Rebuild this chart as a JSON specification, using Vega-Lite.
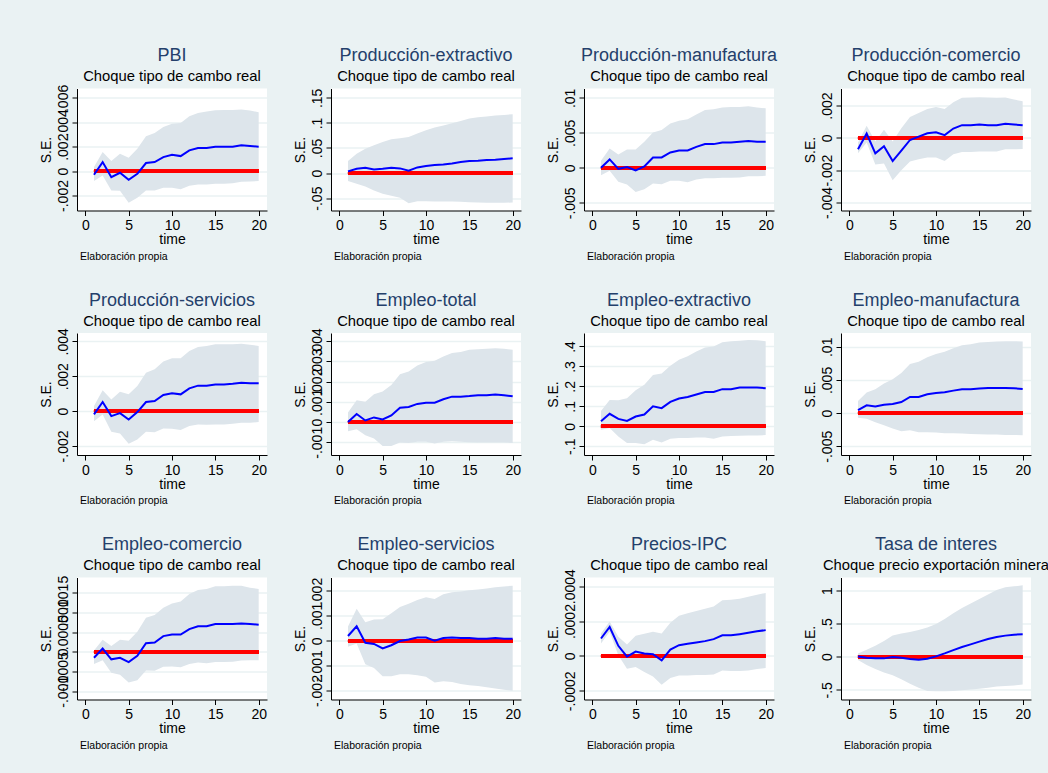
{
  "$schema": "https://vega.github.io/schema/vega-lite/v6.json",
  "background": "#eaf2f3",
  "padding": {"left": 39, "top": 46.5, "right": 0, "bottom": 28},
  "data": {"values": [
    {"panel": "PBI", "time": 1, "irf": -0.0003, "lower": -0.00082, "upper": 0.00033},
    {"panel": "PBI", "time": 2, "irf": 0.00074, "lower": -0.00036, "upper": 0.00156},
    {"panel": "PBI", "time": 3, "irf": -0.0005, "lower": -0.00159, "upper": 0.00082},
    {"panel": "PBI", "time": 4, "irf": -0.00014, "lower": -0.00162, "upper": 0.00142},
    {"panel": "PBI", "time": 5, "irf": -0.00071, "lower": -0.0026, "upper": 0.0011},
    {"panel": "PBI", "time": 6, "irf": -0.00022, "lower": -0.00219, "upper": 0.00184},
    {"panel": "PBI", "time": 7, "irf": 0.00066, "lower": -0.00159, "upper": 0.00285},
    {"panel": "PBI", "time": 8, "irf": 0.00074, "lower": -0.00159, "upper": 0.00312},
    {"panel": "PBI", "time": 9, "irf": 0.00115, "lower": -0.00137, "upper": 0.00362},
    {"panel": "PBI", "time": 10, "irf": 0.00134, "lower": -0.00137, "upper": 0.00389},
    {"panel": "PBI", "time": 11, "irf": 0.00123, "lower": -0.00148, "upper": 0.00395},
    {"panel": "PBI", "time": 12, "irf": 0.0017, "lower": -0.0012, "upper": 0.0045},
    {"panel": "PBI", "time": 13, "irf": 0.00189, "lower": -0.0011, "upper": 0.00477},
    {"panel": "PBI", "time": 14, "irf": 0.00189, "lower": -0.0011, "upper": 0.00488},
    {"panel": "PBI", "time": 15, "irf": 0.002, "lower": -0.00104, "upper": 0.00499},
    {"panel": "PBI", "time": 16, "irf": 0.002, "lower": -0.00104, "upper": 0.005},
    {"panel": "PBI", "time": 17, "irf": 0.002, "lower": -0.00099, "upper": 0.005},
    {"panel": "PBI", "time": 18, "irf": 0.00211, "lower": -0.00088, "upper": 0.00504},
    {"panel": "PBI", "time": 19, "irf": 0.00205, "lower": -0.00085, "upper": 0.00496},
    {"panel": "PBI", "time": 20, "irf": 0.002, "lower": -0.00082, "upper": 0.00482},
    {"panel": "Producción-extractivo", "time": 1, "irf": 0.0033, "lower": -0.016, "upper": 0.024},
    {"panel": "Producción-extractivo", "time": 2, "irf": 0.0087, "lower": -0.0213, "upper": 0.0387},
    {"panel": "Producción-extractivo", "time": 3, "irf": 0.0107, "lower": -0.0267, "upper": 0.0487},
    {"panel": "Producción-extractivo", "time": 4, "irf": 0.0073, "lower": -0.0347, "upper": 0.0553},
    {"panel": "Producción-extractivo", "time": 5, "irf": 0.0087, "lower": -0.0413, "upper": 0.062},
    {"panel": "Producción-extractivo", "time": 6, "irf": 0.0107, "lower": -0.0453, "upper": 0.0673},
    {"panel": "Producción-extractivo", "time": 7, "irf": 0.0093, "lower": -0.0493, "upper": 0.0693},
    {"panel": "Producción-extractivo", "time": 8, "irf": 0.0047, "lower": -0.06, "upper": 0.072},
    {"panel": "Producción-extractivo", "time": 9, "irf": 0.0113, "lower": -0.056, "upper": 0.0787},
    {"panel": "Producción-extractivo", "time": 10, "irf": 0.014, "lower": -0.056, "upper": 0.0853},
    {"panel": "Producción-extractivo", "time": 11, "irf": 0.016, "lower": -0.0567, "upper": 0.0907},
    {"panel": "Producción-extractivo", "time": 12, "irf": 0.0173, "lower": -0.0567, "upper": 0.0947},
    {"panel": "Producción-extractivo", "time": 13, "irf": 0.0193, "lower": -0.0567, "upper": 0.0993},
    {"panel": "Producción-extractivo", "time": 14, "irf": 0.022, "lower": -0.0573, "upper": 0.104},
    {"panel": "Producción-extractivo", "time": 15, "irf": 0.024, "lower": -0.058, "upper": 0.1087},
    {"panel": "Producción-extractivo", "time": 16, "irf": 0.0247, "lower": -0.0587, "upper": 0.1113},
    {"panel": "Producción-extractivo", "time": 17, "irf": 0.026, "lower": -0.0593, "upper": 0.1127},
    {"panel": "Producción-extractivo", "time": 18, "irf": 0.0267, "lower": -0.0593, "upper": 0.1147},
    {"panel": "Producción-extractivo", "time": 19, "irf": 0.028, "lower": -0.0593, "upper": 0.116},
    {"panel": "Producción-extractivo", "time": 20, "irf": 0.0293, "lower": -0.0587, "upper": 0.1173},
    {"panel": "Producción-manufactura", "time": 1, "irf": 0, "lower": -0.00105, "upper": 0.001},
    {"panel": "Producción-manufactura", "time": 2, "irf": 0.0012, "lower": -0.00043, "upper": 0.00277},
    {"panel": "Producción-manufactura", "time": 3, "irf": -0.00014, "lower": -0.002, "upper": 0.00191},
    {"panel": "Producción-manufactura", "time": 4, "irf": 0.0001, "lower": -0.00239, "upper": 0.00263},
    {"panel": "Producción-manufactura", "time": 5, "irf": -0.00038, "lower": -0.00344, "upper": 0.00263},
    {"panel": "Producción-manufactura", "time": 6, "irf": 0.00019, "lower": -0.00306, "upper": 0.00373},
    {"panel": "Producción-manufactura", "time": 7, "irf": 0.00148, "lower": -0.00224, "upper": 0.00506},
    {"panel": "Producción-manufactura", "time": 8, "irf": 0.00148, "lower": -0.00234, "upper": 0.0054},
    {"panel": "Producción-manufactura", "time": 9, "irf": 0.0022, "lower": -0.00186, "upper": 0.00635},
    {"panel": "Producción-manufactura", "time": 10, "irf": 0.00248, "lower": -0.00186, "upper": 0.00673},
    {"panel": "Producción-manufactura", "time": 11, "irf": 0.00248, "lower": -0.00205, "upper": 0.00693},
    {"panel": "Producción-manufactura", "time": 12, "irf": 0.003, "lower": -0.00167, "upper": 0.00764},
    {"panel": "Producción-manufactura", "time": 13, "irf": 0.00339, "lower": -0.00148, "upper": 0.00826},
    {"panel": "Producción-manufactura", "time": 14, "irf": 0.00339, "lower": -0.00148, "upper": 0.00836},
    {"panel": "Producción-manufactura", "time": 15, "irf": 0.00363, "lower": -0.00143, "upper": 0.00864},
    {"panel": "Producción-manufactura", "time": 16, "irf": 0.00363, "lower": -0.00143, "upper": 0.00869},
    {"panel": "Producción-manufactura", "time": 17, "irf": 0.00373, "lower": -0.00138, "upper": 0.00869},
    {"panel": "Producción-manufactura", "time": 18, "irf": 0.00382, "lower": -0.0012, "upper": 0.00879},
    {"panel": "Producción-manufactura", "time": 19, "irf": 0.00373, "lower": -0.0012, "upper": 0.00864},
    {"panel": "Producción-manufactura", "time": 20, "irf": 0.00373, "lower": -0.00115, "upper": 0.0085},
    {"panel": "Producción-comercio", "time": 1, "irf": -0.00071, "lower": -0.00096, "upper": -0.00029},
    {"panel": "Producción-comercio", "time": 2, "irf": 0.00027, "lower": -0.00029, "upper": 0.00075},
    {"panel": "Producción-comercio", "time": 3, "irf": -0.00096, "lower": -0.00165, "upper": -0.00023},
    {"panel": "Producción-comercio", "time": 4, "irf": -0.00052, "lower": -0.00158, "upper": 0.0005},
    {"panel": "Producción-comercio", "time": 5, "irf": -0.00144, "lower": -0.00263, "upper": -0.00023},
    {"panel": "Producción-comercio", "time": 6, "irf": -0.00079, "lower": -0.002, "upper": 0.0006},
    {"panel": "Producción-comercio", "time": 7, "irf": -0.00013, "lower": -0.00146, "upper": 0.00129},
    {"panel": "Producción-comercio", "time": 8, "irf": 0.00008, "lower": -0.00133, "upper": 0.00154},
    {"panel": "Producción-comercio", "time": 9, "irf": 0.00029, "lower": -0.00121, "upper": 0.00179},
    {"panel": "Producción-comercio", "time": 10, "irf": 0.00035, "lower": -0.00121, "upper": 0.00192},
    {"panel": "Producción-comercio", "time": 11, "irf": 0.00017, "lower": -0.00144, "upper": 0.00179},
    {"panel": "Producción-comercio", "time": 12, "irf": 0.00058, "lower": -0.00102, "upper": 0.00221},
    {"panel": "Producción-comercio", "time": 13, "irf": 0.00079, "lower": -0.00088, "upper": 0.00248},
    {"panel": "Producción-comercio", "time": 14, "irf": 0.00079, "lower": -0.00088, "upper": 0.0025},
    {"panel": "Producción-comercio", "time": 15, "irf": 0.00083, "lower": -0.00085, "upper": 0.00252},
    {"panel": "Producción-comercio", "time": 16, "irf": 0.00079, "lower": -0.00085, "upper": 0.0025},
    {"panel": "Producción-comercio", "time": 17, "irf": 0.00079, "lower": -0.00085, "upper": 0.00248},
    {"panel": "Producción-comercio", "time": 18, "irf": 0.00088, "lower": -0.00071, "upper": 0.0025},
    {"panel": "Producción-comercio", "time": 19, "irf": 0.00083, "lower": -0.00071, "upper": 0.00238},
    {"panel": "Producción-comercio", "time": 20, "irf": 0.00079, "lower": -0.00069, "upper": 0.00227},
    {"panel": "Producción-servicios", "time": 1, "irf": -0.00019, "lower": -0.00058, "upper": 0.00029},
    {"panel": "Producción-servicios", "time": 2, "irf": 0.00052, "lower": -0.00019, "upper": 0.00119},
    {"panel": "Producción-servicios", "time": 3, "irf": -0.00029, "lower": -0.00119, "upper": 0.00067},
    {"panel": "Producción-servicios", "time": 4, "irf": -0.00012, "lower": -0.00128, "upper": 0.00111},
    {"panel": "Producción-servicios", "time": 5, "irf": -0.00048, "lower": -0.00188, "upper": 0.00096},
    {"panel": "Producción-servicios", "time": 6, "irf": -0.00006, "lower": -0.00163, "upper": 0.00144},
    {"panel": "Producción-servicios", "time": 7, "irf": 0.00052, "lower": -0.00119, "upper": 0.0022},
    {"panel": "Producción-servicios", "time": 8, "irf": 0.00058, "lower": -0.00121, "upper": 0.0024},
    {"panel": "Producción-servicios", "time": 9, "irf": 0.00092, "lower": -0.001, "upper": 0.00284},
    {"panel": "Producción-servicios", "time": 10, "irf": 0.00102, "lower": -0.00102, "upper": 0.00303},
    {"panel": "Producción-servicios", "time": 11, "irf": 0.00096, "lower": -0.00109, "upper": 0.00303},
    {"panel": "Producción-servicios", "time": 12, "irf": 0.0013, "lower": -0.00086, "upper": 0.00345},
    {"panel": "Producción-servicios", "time": 13, "irf": 0.00146, "lower": -0.00077, "upper": 0.00368},
    {"panel": "Producción-servicios", "time": 14, "irf": 0.00146, "lower": -0.00079, "upper": 0.00374},
    {"panel": "Producción-servicios", "time": 15, "irf": 0.00153, "lower": -0.00077, "upper": 0.00384},
    {"panel": "Producción-servicios", "time": 16, "irf": 0.00153, "lower": -0.00077, "upper": 0.00384},
    {"panel": "Producción-servicios", "time": 17, "irf": 0.00157, "lower": -0.00073, "upper": 0.00384},
    {"panel": "Producción-servicios", "time": 18, "irf": 0.00163, "lower": -0.00067, "upper": 0.00387},
    {"panel": "Producción-servicios", "time": 19, "irf": 0.00159, "lower": -0.00067, "upper": 0.00381},
    {"panel": "Producción-servicios", "time": 20, "irf": 0.00159, "lower": -0.00063, "upper": 0.00374},
    {"panel": "Empleo-total", "time": 1, "irf": 0, "lower": -0.00045, "upper": 0.00048},
    {"panel": "Empleo-total", "time": 2, "irf": 0.0004, "lower": -0.00036, "upper": 0.00108},
    {"panel": "Empleo-total", "time": 3, "irf": 0.00008, "lower": -0.00065, "upper": 0.00101},
    {"panel": "Empleo-total", "time": 4, "irf": 0.00023, "lower": -0.00081, "upper": 0.00138},
    {"panel": "Empleo-total", "time": 5, "irf": 0.00013, "lower": -0.00118, "upper": 0.00151},
    {"panel": "Empleo-total", "time": 6, "irf": 0.00033, "lower": -0.00119, "upper": 0.00184},
    {"panel": "Empleo-total", "time": 7, "irf": 0.00071, "lower": -0.00101, "upper": 0.00237},
    {"panel": "Empleo-total", "time": 8, "irf": 0.00075, "lower": -0.00104, "upper": 0.0025},
    {"panel": "Empleo-total", "time": 9, "irf": 0.0009, "lower": -0.00098, "upper": 0.0028},
    {"panel": "Empleo-total", "time": 10, "irf": 0.00096, "lower": -0.00098, "upper": 0.00297},
    {"panel": "Empleo-total", "time": 11, "irf": 0.00096, "lower": -0.00106, "upper": 0.00303},
    {"panel": "Empleo-total", "time": 12, "irf": 0.00113, "lower": -0.00098, "upper": 0.00325},
    {"panel": "Empleo-total", "time": 13, "irf": 0.00126, "lower": -0.00095, "upper": 0.00342},
    {"panel": "Empleo-total", "time": 14, "irf": 0.00126, "lower": -0.00098, "upper": 0.00347},
    {"panel": "Empleo-total", "time": 15, "irf": 0.00129, "lower": -0.001, "upper": 0.00358},
    {"panel": "Empleo-total", "time": 16, "irf": 0.00133, "lower": -0.00101, "upper": 0.00361},
    {"panel": "Empleo-total", "time": 17, "irf": 0.00133, "lower": -0.00101, "upper": 0.00363},
    {"panel": "Empleo-total", "time": 18, "irf": 0.00136, "lower": -0.00101, "upper": 0.00366},
    {"panel": "Empleo-total", "time": 19, "irf": 0.00133, "lower": -0.00101, "upper": 0.00363},
    {"panel": "Empleo-total", "time": 20, "irf": 0.00128, "lower": -0.00103, "upper": 0.00358},
    {"panel": "Empleo-extractivo", "time": 1, "irf": 0.025, "lower": -0.017, "upper": 0.076},
    {"panel": "Empleo-extractivo", "time": 2, "irf": 0.0625, "lower": -0.0085, "upper": 0.132},
    {"panel": "Empleo-extractivo", "time": 3, "irf": 0.037, "lower": -0.051, "upper": 0.13},
    {"panel": "Empleo-extractivo", "time": 4, "irf": 0.027, "lower": -0.084, "upper": 0.14},
    {"panel": "Empleo-extractivo", "time": 5, "irf": 0.049, "lower": -0.084, "upper": 0.181},
    {"panel": "Empleo-extractivo", "time": 6, "irf": 0.059, "lower": -0.09, "upper": 0.208},
    {"panel": "Empleo-extractivo", "time": 7, "irf": 0.1, "lower": -0.068, "upper": 0.257},
    {"panel": "Empleo-extractivo", "time": 8, "irf": 0.091, "lower": -0.081, "upper": 0.265},
    {"panel": "Empleo-extractivo", "time": 9, "irf": 0.122, "lower": -0.0625, "upper": 0.304},
    {"panel": "Empleo-extractivo", "time": 10, "irf": 0.139, "lower": -0.059, "upper": 0.333},
    {"panel": "Empleo-extractivo", "time": 11, "irf": 0.147, "lower": -0.059, "upper": 0.351},
    {"panel": "Empleo-extractivo", "time": 12, "irf": 0.159, "lower": -0.056, "upper": 0.375},
    {"panel": "Empleo-extractivo", "time": 13, "irf": 0.172, "lower": -0.056, "upper": 0.395},
    {"panel": "Empleo-extractivo", "time": 14, "irf": 0.172, "lower": -0.0625, "upper": 0.4},
    {"panel": "Empleo-extractivo", "time": 15, "irf": 0.186, "lower": -0.051, "upper": 0.421},
    {"panel": "Empleo-extractivo", "time": 16, "irf": 0.186, "lower": -0.049, "upper": 0.426},
    {"panel": "Empleo-extractivo", "time": 17, "irf": 0.194, "lower": -0.047, "upper": 0.429},
    {"panel": "Empleo-extractivo", "time": 18, "irf": 0.194, "lower": -0.046, "upper": 0.432},
    {"panel": "Empleo-extractivo", "time": 19, "irf": 0.194, "lower": -0.046, "upper": 0.431},
    {"panel": "Empleo-extractivo", "time": 20, "irf": 0.191, "lower": -0.044, "upper": 0.426},
    {"panel": "Empleo-manufactura", "time": 1, "irf": 0.00046, "lower": -0.00071, "upper": 0.00182},
    {"panel": "Empleo-manufactura", "time": 2, "irf": 0.00117, "lower": -0.00086, "upper": 0.00309},
    {"panel": "Empleo-manufactura", "time": 3, "irf": 0.00101, "lower": -0.00137, "upper": 0.0036},
    {"panel": "Empleo-manufactura", "time": 4, "irf": 0.00127, "lower": -0.00182, "upper": 0.00446},
    {"panel": "Empleo-manufactura", "time": 5, "irf": 0.00137, "lower": -0.00233, "upper": 0.00512},
    {"panel": "Empleo-manufactura", "time": 6, "irf": 0.00167, "lower": -0.00274, "upper": 0.00603},
    {"panel": "Empleo-manufactura", "time": 7, "irf": 0.00243, "lower": -0.00258, "upper": 0.0074},
    {"panel": "Empleo-manufactura", "time": 8, "irf": 0.00243, "lower": -0.00289, "upper": 0.00775},
    {"panel": "Empleo-manufactura", "time": 9, "irf": 0.00284, "lower": -0.00289, "upper": 0.00841},
    {"panel": "Empleo-manufactura", "time": 10, "irf": 0.00304, "lower": -0.00294, "upper": 0.00892},
    {"panel": "Empleo-manufactura", "time": 11, "irf": 0.00314, "lower": -0.00304, "upper": 0.00927},
    {"panel": "Empleo-manufactura", "time": 12, "irf": 0.00339, "lower": -0.00304, "upper": 0.00978},
    {"panel": "Empleo-manufactura", "time": 13, "irf": 0.0036, "lower": -0.00309, "upper": 0.01023},
    {"panel": "Empleo-manufactura", "time": 14, "irf": 0.0036, "lower": -0.00314, "upper": 0.01039},
    {"panel": "Empleo-manufactura", "time": 15, "irf": 0.0037, "lower": -0.00319, "upper": 0.01064},
    {"panel": "Empleo-manufactura", "time": 16, "irf": 0.0038, "lower": -0.00324, "upper": 0.01074},
    {"panel": "Empleo-manufactura", "time": 17, "irf": 0.0038, "lower": -0.00324, "upper": 0.01079},
    {"panel": "Empleo-manufactura", "time": 18, "irf": 0.0038, "lower": -0.00329, "upper": 0.01084},
    {"panel": "Empleo-manufactura", "time": 19, "irf": 0.00375, "lower": -0.00329, "upper": 0.01084},
    {"panel": "Empleo-manufactura", "time": 20, "irf": 0.00365, "lower": -0.00334, "upper": 0.01079},
    {"panel": "Empleo-comercio", "time": 1, "irf": -0.00015, "lower": -0.00031, "upper": 0.000034},
    {"panel": "Empleo-comercio", "time": 2, "irf": 0.000085, "lower": -0.00021, "upper": 0.00031},
    {"panel": "Empleo-comercio", "time": 3, "irf": -0.00019, "lower": -0.00053, "upper": 0.00015},
    {"panel": "Empleo-comercio", "time": 4, "irf": -0.00015, "lower": -0.00058, "upper": 0.00031},
    {"panel": "Empleo-comercio", "time": 5, "irf": -0.00026, "lower": -0.00078, "upper": 0.00028},
    {"panel": "Empleo-comercio", "time": 6, "irf": -0.0001, "lower": -0.00072, "upper": 0.00051},
    {"panel": "Empleo-comercio", "time": 7, "irf": 0.00022, "lower": -0.00047, "upper": 0.00087},
    {"panel": "Empleo-comercio", "time": 8, "irf": 0.00024, "lower": -0.00048, "upper": 0.00094},
    {"panel": "Empleo-comercio", "time": 9, "irf": 0.0004, "lower": -0.00038, "upper": 0.00112},
    {"panel": "Empleo-comercio", "time": 10, "irf": 0.00044, "lower": -0.00037, "upper": 0.00123},
    {"panel": "Empleo-comercio", "time": 11, "irf": 0.00044, "lower": -0.00039, "upper": 0.00128},
    {"panel": "Empleo-comercio", "time": 12, "irf": 0.00058, "lower": -0.00031, "upper": 0.00147},
    {"panel": "Empleo-comercio", "time": 13, "irf": 0.00065, "lower": -0.00027, "upper": 0.00157},
    {"panel": "Empleo-comercio", "time": 14, "irf": 0.00065, "lower": -0.00029, "upper": 0.0016},
    {"panel": "Empleo-comercio", "time": 15, "irf": 0.00071, "lower": -0.00026, "upper": 0.00167},
    {"panel": "Empleo-comercio", "time": 16, "irf": 0.00071, "lower": -0.00026, "upper": 0.00167},
    {"panel": "Empleo-comercio", "time": 17, "irf": 0.00071, "lower": -0.00025, "upper": 0.00168},
    {"panel": "Empleo-comercio", "time": 18, "irf": 0.00072, "lower": -0.00022, "upper": 0.00168},
    {"panel": "Empleo-comercio", "time": 19, "irf": 0.00071, "lower": -0.00021, "upper": 0.00163},
    {"panel": "Empleo-comercio", "time": 20, "irf": 0.00069, "lower": -0.00021, "upper": 0.0016},
    {"panel": "Empleo-servicios", "time": 1, "irf": 0.00019, "lower": -0.00024, "upper": 0.00057},
    {"panel": "Empleo-servicios", "time": 2, "irf": 0.00058, "lower": -0.00011, "upper": 0.00128},
    {"panel": "Empleo-servicios", "time": 3, "irf": -0.00008, "lower": -0.00094, "upper": 0.00074},
    {"panel": "Empleo-servicios", "time": 4, "irf": -0.00013, "lower": -0.00109, "upper": 0.00085},
    {"panel": "Empleo-servicios", "time": 5, "irf": -0.00031, "lower": -0.00143, "upper": 0.00086},
    {"panel": "Empleo-servicios", "time": 6, "irf": -0.00018, "lower": -0.00143, "upper": 0.0011},
    {"panel": "Empleo-servicios", "time": 7, "irf": -0.00001, "lower": -0.00135, "upper": 0.00136},
    {"panel": "Empleo-servicios", "time": 8, "irf": 0.00005, "lower": -0.00135, "upper": 0.00149},
    {"panel": "Empleo-servicios", "time": 9, "irf": 0.00013, "lower": -0.00139, "upper": 0.00164},
    {"panel": "Empleo-servicios", "time": 10, "irf": 0.00013, "lower": -0.00145, "upper": 0.00175},
    {"panel": "Empleo-servicios", "time": 11, "irf": 0, "lower": -0.00168, "upper": 0.00168},
    {"panel": "Empleo-servicios", "time": 12, "irf": 0.00011, "lower": -0.00163, "upper": 0.00187},
    {"panel": "Empleo-servicios", "time": 13, "irf": 0.00013, "lower": -0.00166, "upper": 0.00195},
    {"panel": "Empleo-servicios", "time": 14, "irf": 0.00011, "lower": -0.00174, "upper": 0.00198},
    {"panel": "Empleo-servicios", "time": 15, "irf": 0.00011, "lower": -0.00179, "upper": 0.00203},
    {"panel": "Empleo-servicios", "time": 16, "irf": 0.00008, "lower": -0.00182, "upper": 0.00206},
    {"panel": "Empleo-servicios", "time": 17, "irf": 0.00008, "lower": -0.00187, "upper": 0.0021},
    {"panel": "Empleo-servicios", "time": 18, "irf": 0.00011, "lower": -0.00192, "upper": 0.00215},
    {"panel": "Empleo-servicios", "time": 19, "irf": 0.00008, "lower": -0.00197, "upper": 0.00218},
    {"panel": "Empleo-servicios", "time": 20, "irf": 0.00008, "lower": -0.00201, "upper": 0.00221},
    {"panel": "Precios-IPC", "time": 1, "irf": 0.0001, "lower": 0.0000714, "upper": 0.000129},
    {"panel": "Precios-IPC", "time": 2, "irf": 0.000166, "lower": 0.000139, "upper": 0.000197},
    {"panel": "Precios-IPC", "time": 3, "irf": 0.000058, "lower": 0.000004, "upper": 0.00011},
    {"panel": "Precios-IPC", "time": 4, "irf": -0.000004, "lower": -0.0000733, "upper": 0.0000656},
    {"panel": "Precios-IPC", "time": 5, "irf": 0.000025, "lower": -0.0000636, "upper": 0.000116},
    {"panel": "Precios-IPC", "time": 6, "irf": 0.0000135, "lower": -0.0000926, "upper": 0.000127},
    {"panel": "Precios-IPC", "time": 7, "irf": 0.0000096, "lower": -0.000118, "upper": 0.000139},
    {"panel": "Precios-IPC", "time": 8, "irf": -0.000025, "lower": -0.000166, "upper": 0.000129},
    {"panel": "Precios-IPC", "time": 9, "irf": 0.0000366, "lower": -0.000127, "upper": 0.000191},
    {"panel": "Precios-IPC", "time": 10, "irf": 0.0000617, "lower": -0.000112, "upper": 0.000231},
    {"panel": "Precios-IPC", "time": 11, "irf": 0.0000694, "lower": -0.000112, "upper": 0.000245},
    {"panel": "Precios-IPC", "time": 12, "irf": 0.0000771, "lower": -0.00011, "upper": 0.000258},
    {"panel": "Precios-IPC", "time": 13, "irf": 0.0000849, "lower": -0.00011, "upper": 0.00027},
    {"panel": "Precios-IPC", "time": 14, "irf": 0.0000964, "lower": -0.000106, "upper": 0.000284},
    {"panel": "Precios-IPC", "time": 15, "irf": 0.000118, "lower": -0.000083, "upper": 0.00032},
    {"panel": "Precios-IPC", "time": 16, "irf": 0.000118, "lower": -0.0000868, "upper": 0.000322},
    {"panel": "Precios-IPC", "time": 17, "irf": 0.000125, "lower": -0.0000868, "upper": 0.000328},
    {"panel": "Precios-IPC", "time": 18, "irf": 0.000133, "lower": -0.000083, "upper": 0.000339},
    {"panel": "Precios-IPC", "time": 19, "irf": 0.000141, "lower": -0.0000752, "upper": 0.000351},
    {"panel": "Precios-IPC", "time": 20, "irf": 0.000148, "lower": -0.0000694, "upper": 0.000361},
    {"panel": "Tasa de interes", "time": 1, "irf": 0.005, "lower": -0.05, "upper": 0.05},
    {"panel": "Tasa de interes", "time": 2, "irf": -0.015, "lower": -0.127, "upper": 0.106},
    {"panel": "Tasa de interes", "time": 3, "irf": -0.025, "lower": -0.187, "upper": 0.167},
    {"panel": "Tasa de interes", "time": 4, "irf": -0.025, "lower": -0.238, "upper": 0.238},
    {"panel": "Tasa de interes", "time": 5, "irf": -0.005, "lower": -0.279, "upper": 0.319},
    {"panel": "Tasa de interes", "time": 6, "irf": -0.015, "lower": -0.339, "upper": 0.35},
    {"panel": "Tasa de interes", "time": 7, "irf": -0.035, "lower": -0.41, "upper": 0.375},
    {"panel": "Tasa de interes", "time": 8, "irf": -0.046, "lower": -0.471, "upper": 0.405},
    {"panel": "Tasa de interes", "time": 9, "irf": -0.03, "lower": -0.517, "upper": 0.44},
    {"panel": "Tasa de interes", "time": 10, "irf": 0.005, "lower": -0.522, "upper": 0.496},
    {"panel": "Tasa de interes", "time": 11, "irf": 0.05, "lower": -0.522, "upper": 0.572},
    {"panel": "Tasa de interes", "time": 12, "irf": 0.1, "lower": -0.517, "upper": 0.659},
    {"panel": "Tasa de interes", "time": 13, "irf": 0.147, "lower": -0.507, "upper": 0.735},
    {"panel": "Tasa de interes", "time": 14, "irf": 0.187, "lower": -0.496, "upper": 0.805},
    {"panel": "Tasa de interes", "time": 15, "irf": 0.228, "lower": -0.486, "upper": 0.871},
    {"panel": "Tasa de interes", "time": 16, "irf": 0.268, "lower": -0.471, "upper": 0.942},
    {"panel": "Tasa de interes", "time": 17, "irf": 0.299, "lower": -0.451, "upper": 1.008},
    {"panel": "Tasa de interes", "time": 18, "irf": 0.319, "lower": -0.441, "upper": 1.049},
    {"panel": "Tasa de interes", "time": 19, "irf": 0.334, "lower": -0.436, "upper": 1.064},
    {"panel": "Tasa de interes", "time": 20, "irf": 0.339, "lower": -0.42, "upper": 1.079}
  ]},
  "columns": 4,
  "spacing": {"row": 28.5, "column": 25},
  "concat": [
    {"title": {"text": "Elaboración propia", "orient": "bottom", "anchor": "start", "frame": "group", "fontSize": 10.5, "color": "black", "offset": 5, "dx": 3},
     "vconcat": [{"width": 190, "height": 122,
      "title": {"text": "PBI", "subtitle": "Choque tipo de cambo real", "offset": 0.3},
      "transform": [{"filter": "datum.panel === 'PBI'"}],
      "encoding": {"x": {"field": "time", "type": "quantitative", "title": "time", "scale": {"domain": [-0.96, 20.96], "nice": false, "zero": false}, "axis": {"values": [0, 5, 10, 15, 20]}}},
      "layer": [
        {"mark": {"type": "area", "color": "#dde5eb"}, "encoding": {"y": {"field": "lower", "type": "quantitative", "title": "S.E.", "scale": {"domain": [-0.00323, 0.00677], "nice": false, "zero": false}, "axis": {"values": [-0.002, 0, 0.002, 0.004, 0.006], "tickCount": 20, "labelOverlap": false, "labelExpr": "replace('' + datum.value, '0.', '.')"}}, "y2": {"field": "upper"}}},
        {"mark": {"type": "rule", "color": "#ff0000", "strokeWidth": 3.2}, "encoding": {"x": {"datum": 1}, "x2": {"datum": 20}, "y": {"datum": 0}}},
        {"mark": {"type": "line", "color": "#0000ff", "strokeWidth": 2}, "encoding": {"y": {"field": "irf", "type": "quantitative"}}}
      ]}]},
    {"title": {"text": "Elaboración propia", "orient": "bottom", "anchor": "start", "frame": "group", "fontSize": 10.5, "color": "black", "offset": 5, "dx": 3},
     "vconcat": [{"width": 190, "height": 122,
      "title": {"text": "Producción-extractivo", "subtitle": "Choque tipo de cambo real", "offset": 4.2},
      "transform": [{"filter": "datum.panel === 'Producción-extractivo'"}],
      "encoding": {"x": {"field": "time", "type": "quantitative", "title": "time", "scale": {"domain": [-0.96, 20.96], "nice": false, "zero": false}, "axis": {"values": [0, 5, 10, 15, 20]}}},
      "layer": [
        {"mark": {"type": "area", "color": "#dde5eb"}, "encoding": {"y": {"field": "lower", "type": "quantitative", "title": "S.E.", "scale": {"domain": [-0.0747, 0.1687], "nice": false, "zero": false}, "axis": {"values": [-0.05, 0, 0.05, 0.1, 0.15], "tickCount": 20, "labelOverlap": false, "labelExpr": "replace('' + datum.value, '0.', '.')"}}, "y2": {"field": "upper"}}},
        {"mark": {"type": "rule", "color": "#ff0000", "strokeWidth": 3.2}, "encoding": {"x": {"datum": 1}, "x2": {"datum": 20}, "y": {"datum": 0}}},
        {"mark": {"type": "line", "color": "#0000ff", "strokeWidth": 2}, "encoding": {"y": {"field": "irf", "type": "quantitative"}}}
      ]}]},
    {"title": {"text": "Elaboración propia", "orient": "bottom", "anchor": "start", "frame": "group", "fontSize": 10.5, "color": "black", "offset": 5, "dx": 3},
     "vconcat": [{"width": 190, "height": 122,
      "title": {"text": "Producción-manufactura", "subtitle": "Choque tipo de cambo real", "offset": 4.2},
      "transform": [{"filter": "datum.panel === 'Producción-manufactura'"}],
      "encoding": {"x": {"field": "time", "type": "quantitative", "title": "time", "scale": {"domain": [-0.96, 20.96], "nice": false, "zero": false}, "axis": {"values": [0, 5, 10, 15, 20]}}},
      "layer": [
        {"mark": {"type": "area", "color": "#dde5eb"}, "encoding": {"y": {"field": "lower", "type": "quantitative", "title": "S.E.", "scale": {"domain": [-0.0061, 0.01134], "nice": false, "zero": false}, "axis": {"values": [-0.005, 0, 0.005, 0.01], "tickCount": 20, "labelOverlap": false, "labelExpr": "replace('' + datum.value, '0.', '.')"}}, "y2": {"field": "upper"}}},
        {"mark": {"type": "rule", "color": "#ff0000", "strokeWidth": 3.2}, "encoding": {"x": {"datum": 1}, "x2": {"datum": 20}, "y": {"datum": 0}}},
        {"mark": {"type": "line", "color": "#0000ff", "strokeWidth": 2}, "encoding": {"y": {"field": "irf", "type": "quantitative"}}}
      ]}]},
    {"title": {"text": "Elaboración propia", "orient": "bottom", "anchor": "start", "frame": "group", "fontSize": 10.5, "color": "black", "offset": 5, "dx": 3},
     "vconcat": [{"width": 190, "height": 122,
      "title": {"text": "Producción-comercio", "subtitle": "Choque tipo de cambo real", "offset": 4.5},
      "transform": [{"filter": "datum.panel === 'Producción-comercio'"}],
      "encoding": {"x": {"field": "time", "type": "quantitative", "title": "time", "scale": {"domain": [-0.96, 20.96], "nice": false, "zero": false}, "axis": {"values": [0, 5, 10, 15, 20]}}},
      "layer": [
        {"mark": {"type": "area", "color": "#dde5eb"}, "encoding": {"y": {"field": "lower", "type": "quantitative", "title": "S.E.", "scale": {"domain": [-0.0045, 0.00306], "nice": false, "zero": false}, "axis": {"values": [-0.004, -0.002, 0, 0.002], "tickCount": 20, "labelOverlap": false, "labelExpr": "replace('' + datum.value, '0.', '.')"}}, "y2": {"field": "upper"}}},
        {"mark": {"type": "rule", "color": "#ff0000", "strokeWidth": 3.2}, "encoding": {"x": {"datum": 1}, "x2": {"datum": 20}, "y": {"datum": 0}}},
        {"mark": {"type": "line", "color": "#0000ff", "strokeWidth": 2}, "encoding": {"y": {"field": "irf", "type": "quantitative"}}}
      ]}]},
    {"title": {"text": "Elaboración propia", "orient": "bottom", "anchor": "start", "frame": "group", "fontSize": 10.5, "color": "black", "offset": 5, "dx": 3},
     "vconcat": [{"width": 190, "height": 122,
      "title": {"text": "Producción-servicios", "subtitle": "Choque tipo de cambo real", "offset": -0.7},
      "transform": [{"filter": "datum.panel === 'Producción-servicios'"}],
      "encoding": {"x": {"field": "time", "type": "quantitative", "title": "time", "scale": {"domain": [-0.96, 20.96], "nice": false, "zero": false}, "axis": {"values": [0, 5, 10, 15, 20]}}},
      "layer": [
        {"mark": {"type": "area", "color": "#dde5eb"}, "encoding": {"y": {"field": "lower", "type": "quantitative", "title": "S.E.", "scale": {"domain": [-0.00252, 0.00448], "nice": false, "zero": false}, "axis": {"values": [-0.002, 0, 0.002, 0.004], "tickCount": 20, "labelOverlap": false, "labelExpr": "replace('' + datum.value, '0.', '.')"}}, "y2": {"field": "upper"}}},
        {"mark": {"type": "rule", "color": "#ff0000", "strokeWidth": 3.2}, "encoding": {"x": {"datum": 1}, "x2": {"datum": 20}, "y": {"datum": 0}}},
        {"mark": {"type": "line", "color": "#0000ff", "strokeWidth": 2}, "encoding": {"y": {"field": "irf", "type": "quantitative"}}}
      ]}]},
    {"title": {"text": "Elaboración propia", "orient": "bottom", "anchor": "start", "frame": "group", "fontSize": 10.5, "color": "black", "offset": 5, "dx": 3},
     "vconcat": [{"width": 190, "height": 122,
      "title": {"text": "Empleo-total", "subtitle": "Choque tipo de cambo real", "offset": -0.8},
      "transform": [{"filter": "datum.panel === 'Empleo-total'"}],
      "encoding": {"x": {"field": "time", "type": "quantitative", "title": "time", "scale": {"domain": [-0.96, 20.96], "nice": false, "zero": false}, "axis": {"values": [0, 5, 10, 15, 20]}}},
      "layer": [
        {"mark": {"type": "area", "color": "#dde5eb"}, "encoding": {"y": {"field": "lower", "type": "quantitative", "title": "S.E.", "scale": {"domain": [-0.00163, 0.00441], "nice": false, "zero": false}, "axis": {"values": [-0.001, 0, 0.001, 0.002, 0.003, 0.004], "tickCount": 20, "labelOverlap": false, "labelExpr": "replace('' + datum.value, '0.', '.')"}}, "y2": {"field": "upper"}}},
        {"mark": {"type": "rule", "color": "#ff0000", "strokeWidth": 3.2}, "encoding": {"x": {"datum": 1}, "x2": {"datum": 20}, "y": {"datum": 0}}},
        {"mark": {"type": "line", "color": "#0000ff", "strokeWidth": 2}, "encoding": {"y": {"field": "irf", "type": "quantitative"}}}
      ]}]},
    {"title": {"text": "Elaboración propia", "orient": "bottom", "anchor": "start", "frame": "group", "fontSize": 10.5, "color": "black", "offset": 5, "dx": 3},
     "vconcat": [{"width": 190, "height": 122,
      "title": {"text": "Empleo-extractivo", "subtitle": "Choque tipo de cambo real", "offset": 4.5},
      "transform": [{"filter": "datum.panel === 'Empleo-extractivo'"}],
      "encoding": {"x": {"field": "time", "type": "quantitative", "title": "time", "scale": {"domain": [-0.96, 20.96], "nice": false, "zero": false}, "axis": {"values": [0, 5, 10, 15, 20]}}},
      "layer": [
        {"mark": {"type": "area", "color": "#dde5eb"}, "encoding": {"y": {"field": "lower", "type": "quantitative", "title": "S.E.", "scale": {"domain": [-0.144, 0.4676], "nice": false, "zero": false}, "axis": {"values": [-0.1, 0, 0.1, 0.2, 0.3, 0.4], "tickCount": 20, "labelOverlap": false, "labelExpr": "replace('' + datum.value, '0.', '.')"}}, "y2": {"field": "upper"}}},
        {"mark": {"type": "rule", "color": "#ff0000", "strokeWidth": 3.2}, "encoding": {"x": {"datum": 1}, "x2": {"datum": 20}, "y": {"datum": 0}}},
        {"mark": {"type": "line", "color": "#0000ff", "strokeWidth": 2}, "encoding": {"y": {"field": "irf", "type": "quantitative"}}}
      ]}]},
    {"title": {"text": "Elaboración propia", "orient": "bottom", "anchor": "start", "frame": "group", "fontSize": 10.5, "color": "black", "offset": 5, "dx": 3},
     "vconcat": [{"width": 190, "height": 122,
      "title": {"text": "Empleo-manufactura", "subtitle": "Choque tipo de cambo real", "offset": 4.5},
      "transform": [{"filter": "datum.panel === 'Empleo-manufactura'"}],
      "encoding": {"x": {"field": "time", "type": "quantitative", "title": "time", "scale": {"domain": [-0.96, 20.96], "nice": false, "zero": false}, "axis": {"values": [0, 5, 10, 15, 20]}}},
      "layer": [
        {"mark": {"type": "area", "color": "#dde5eb"}, "encoding": {"y": {"field": "lower", "type": "quantitative", "title": "S.E.", "scale": {"domain": [-0.00632, 0.01208], "nice": false, "zero": false}, "axis": {"values": [-0.005, 0, 0.005, 0.01], "tickCount": 20, "labelOverlap": false, "labelExpr": "replace('' + datum.value, '0.', '.')"}}, "y2": {"field": "upper"}}},
        {"mark": {"type": "rule", "color": "#ff0000", "strokeWidth": 3.2}, "encoding": {"x": {"datum": 1}, "x2": {"datum": 20}, "y": {"datum": 0}}},
        {"mark": {"type": "line", "color": "#0000ff", "strokeWidth": 2}, "encoding": {"y": {"field": "irf", "type": "quantitative"}}}
      ]}]},
    {"title": {"text": "Elaboración propia", "orient": "bottom", "anchor": "start", "frame": "group", "fontSize": 10.5, "color": "black", "offset": 5, "dx": 3},
     "vconcat": [{"width": 190, "height": 122,
      "title": {"text": "Empleo-comercio", "subtitle": "Choque tipo de cambo real", "offset": 2.3},
      "transform": [{"filter": "datum.panel === 'Empleo-comercio'"}],
      "encoding": {"x": {"field": "time", "type": "quantitative", "title": "time", "scale": {"domain": [-0.96, 20.96], "nice": false, "zero": false}, "axis": {"values": [0, 5, 10, 15, 20]}}},
      "layer": [
        {"mark": {"type": "area", "color": "#dde5eb"}, "encoding": {"y": {"field": "lower", "type": "quantitative", "title": "S.E.", "scale": {"domain": [-0.00121, 0.00189], "nice": false, "zero": false}, "axis": {"values": [-0.001, -0.0005, 0, 0.0005, 0.001, 0.0015], "tickCount": 20, "labelOverlap": false, "labelExpr": "replace('' + datum.value, '0.', '.')"}}, "y2": {"field": "upper"}}},
        {"mark": {"type": "rule", "color": "#ff0000", "strokeWidth": 3.2}, "encoding": {"x": {"datum": 1}, "x2": {"datum": 20}, "y": {"datum": 0}}},
        {"mark": {"type": "line", "color": "#0000ff", "strokeWidth": 2}, "encoding": {"y": {"field": "irf", "type": "quantitative"}}}
      ]}]},
    {"title": {"text": "Elaboración propia", "orient": "bottom", "anchor": "start", "frame": "group", "fontSize": 10.5, "color": "black", "offset": 5, "dx": 3},
     "vconcat": [{"width": 190, "height": 122,
      "title": {"text": "Empleo-servicios", "subtitle": "Choque tipo de cambo real", "offset": 4.3},
      "transform": [{"filter": "datum.panel === 'Empleo-servicios'"}],
      "encoding": {"x": {"field": "time", "type": "quantitative", "title": "time", "scale": {"domain": [-0.96, 20.96], "nice": false, "zero": false}, "axis": {"values": [0, 5, 10, 15, 20]}}},
      "layer": [
        {"mark": {"type": "area", "color": "#dde5eb"}, "encoding": {"y": {"field": "lower", "type": "quantitative", "title": "S.E.", "scale": {"domain": [-0.00236, 0.00254], "nice": false, "zero": false}, "axis": {"values": [-0.002, -0.001, 0, 0.001, 0.002], "tickCount": 20, "labelOverlap": false, "labelExpr": "replace('' + datum.value, '0.', '.')"}}, "y2": {"field": "upper"}}},
        {"mark": {"type": "rule", "color": "#ff0000", "strokeWidth": 3.2}, "encoding": {"x": {"datum": 1}, "x2": {"datum": 20}, "y": {"datum": 0}}},
        {"mark": {"type": "line", "color": "#0000ff", "strokeWidth": 2}, "encoding": {"y": {"field": "irf", "type": "quantitative"}}}
      ]}]},
    {"title": {"text": "Elaboración propia", "orient": "bottom", "anchor": "start", "frame": "group", "fontSize": 10.5, "color": "black", "offset": 5, "dx": 3},
     "vconcat": [{"width": 190, "height": 122,
      "title": {"text": "Precios-IPC", "subtitle": "Choque tipo de cambo real", "offset": -4.3},
      "transform": [{"filter": "datum.panel === 'Precios-IPC'"}],
      "encoding": {"x": {"field": "time", "type": "quantitative", "title": "time", "scale": {"domain": [-0.96, 20.96], "nice": false, "zero": false}, "axis": {"values": [0, 5, 10, 15, 20]}}},
      "layer": [
        {"mark": {"type": "area", "color": "#dde5eb"}, "encoding": {"y": {"field": "lower", "type": "quantitative", "title": "S.E.", "scale": {"domain": [-0.00025, 0.00045], "nice": false, "zero": false}, "axis": {"values": [-0.0002, 0, 0.0002, 0.0004], "tickCount": 20, "labelOverlap": false, "labelExpr": "replace('' + datum.value, '0.', '.')"}}, "y2": {"field": "upper"}}},
        {"mark": {"type": "rule", "color": "#ff0000", "strokeWidth": 3.2}, "encoding": {"x": {"datum": 1}, "x2": {"datum": 20}, "y": {"datum": 0}}},
        {"mark": {"type": "line", "color": "#0000ff", "strokeWidth": 2}, "encoding": {"y": {"field": "irf", "type": "quantitative"}}}
      ]}]},
    {"title": {"text": "Elaboración propia", "orient": "bottom", "anchor": "start", "frame": "group", "fontSize": 10.5, "color": "black", "offset": 5, "dx": 3},
     "vconcat": [{"width": 190, "height": 122,
      "title": {"text": "Tasa de interes", "subtitle": "Choque precio exportación minera", "offset": 4.5},
      "transform": [{"filter": "datum.panel === 'Tasa de interes'"}],
      "encoding": {"x": {"field": "time", "type": "quantitative", "title": "time", "scale": {"domain": [-0.96, 20.96], "nice": false, "zero": false}, "axis": {"values": [0, 5, 10, 15, 20]}}},
      "layer": [
        {"mark": {"type": "area", "color": "#dde5eb"}, "encoding": {"y": {"field": "lower", "type": "quantitative", "title": "S.E.", "scale": {"domain": [-0.647, 1.198], "nice": false, "zero": false}, "axis": {"values": [-0.5, 0, 0.5, 1], "tickCount": 20, "labelOverlap": false, "labelExpr": "replace('' + datum.value, '0.', '.')"}}, "y2": {"field": "upper"}}},
        {"mark": {"type": "rule", "color": "#ff0000", "strokeWidth": 3.2}, "encoding": {"x": {"datum": 1}, "x2": {"datum": 20}, "y": {"datum": 0}}},
        {"mark": {"type": "line", "color": "#0000ff", "strokeWidth": 2}, "encoding": {"y": {"field": "irf", "type": "quantitative"}}}
      ]}]}
  ],
  "config": {
    "font": "Liberation Sans",
    "view": {"fill": "white", "stroke": null},
    "axis": {"domainColor": "black", "tickColor": "black", "labelColor": "black", "titleColor": "black", "labelFont": "Liberation Sans", "titleFont": "Liberation Sans", "labelFontSize": 14, "titleFontSize": 14, "titleFontWeight": "normal", "tickSize": 5, "domainWidth": 1, "tickWidth": 1},
    "axisX": {"grid": false, "labelPadding": 3, "titlePadding": 0},
    "axisY": {"grid": true, "gridColor": "#eaf2f3", "gridWidth": 1.5, "labelAngle": -90, "labelAlign": "center", "labelBaseline": "bottom", "labelPadding": 2, "labelOverlap": false, "titlePadding": 3},
    "title": {"font": "Liberation Sans", "fontSize": 18, "fontWeight": "normal", "color": "#24406b", "subtitleFont": "Liberation Sans", "subtitleFontSize": 14.8, "subtitleColor": "black", "anchor": "middle", "frame": "group", "offset": 4.5, "subtitlePadding": 4}
  }
}
